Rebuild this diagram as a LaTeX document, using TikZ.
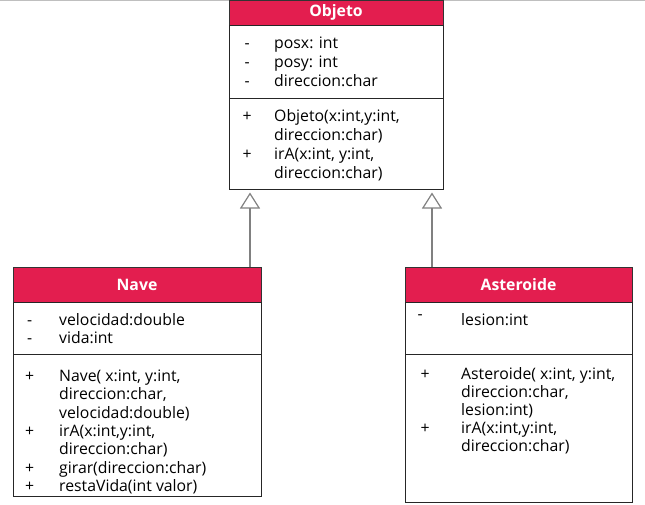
\documentclass[tikz,border=0pt]{standalone}
\usepackage{fontspec}
\setmainfont{Open Sans}
\usetikzlibrary{positioning,arrows.meta}
\definecolor{umlred}{RGB}{227,30,79}
\newcommand{\sg}[1]{\makebox[0pt]{#1}}

\begin{document}
\begin{tikzpicture}[x=1pt,y=-1pt,
	hdr/.style={draw=black!80,fill=umlred,text=white,inner sep=0pt,outer sep=0pt,
		anchor=north west,line width=0.8pt,font=\fontsize{15.8}{18}\selectfont\bfseries},
	sect/.style={draw=black!85,fill=white,inner sep=0pt,outer sep=0pt,line width=0.9pt},
	members/.style={inner sep=0pt,anchor=base west,font=\fontsize{15.8}{#1}\selectfont},
	members/.default=18.4,
	inherit/.style={draw=black!50,line width=1.2pt,
		-{Triangle[open,length=16pt,width=20pt]},shorten >=3.5pt}
]
	\useasboundingbox (0,0) rectangle (645,504);
	\draw[black!25,line width=0.8pt] (0,0.5) -- (645,0.5);

	% Objeto
	\node[hdr,minimum width=214pt,minimum height=25pt] (objeto) at (229,0) {Objeto};
	\node[sect,minimum width=214pt,minimum height=73pt,below=0pt of objeto] (objeto-att) {};
	\node[sect,minimum width=214pt,minimum height=91pt,below=0pt of objeto-att] (objeto-met) {};
	\node[members=19] (objeto-att-txt) at (247,48) {\begin{tabular}[t]{@{}l@{\hspace{27pt}}l@{}}
		\sg{-} & posx: int\\
		\sg{-} & posy: int\\
		\sg{-} & direccion:char
	\end{tabular}};
	\node[members=19] (objeto-met-txt) at (247,121) {\begin{tabular}[t]{@{}l@{\hspace{27pt}}l@{}}
		\sg{+} & Objeto(x:int,y:int,\\
		       & direccion:char)\\
		\sg{+} & irA(x:int, y:int,\\
		       & direccion:char)
	\end{tabular}};

	% Nave
	\node[hdr,minimum width=248pt,minimum height=35pt] (nave) at (13,267) {Nave};
	\node[sect,minimum width=248pt,minimum height=52pt,below=0pt of nave] (nave-att) {};
	\node[sect,minimum width=248pt,minimum height=142pt,below=0pt of nave-att] (nave-met) {};
	\node[members] (nave-att-txt) at (29.5,325) {\begin{tabular}[t]{@{}l@{\hspace{29.5pt}}l@{}}
		\sg{-} & velocidad:double\\
		\sg{-} & vida:int
	\end{tabular}};
	\node[members=18.3] (nave-met-txt) at (29.5,381.5) {\begin{tabular}[t]{@{}l@{\hspace{29.5pt}}l@{}}
		\sg{+} & Nave( x:int, y:int,\\
		       & direccion:char,\\
		       & velocidad:double)\\
		\sg{+} & irA(x:int,y:int,\\
		       & direccion:char)\\
		\sg{+} & girar(direccion:char)\\
		\sg{+} & restaVida(int valor)
	\end{tabular}};

	% Asteroide
	\node[hdr,minimum width=227pt,minimum height=35pt] (asteroide) at (405,267) {Asteroide};
	\node[sect,minimum width=227pt,minimum height=52pt,below=0pt of asteroide] (asteroide-att) {};
	\node[sect,minimum width=227pt,minimum height=148pt,below=0pt of asteroide-att] (asteroide-met) {};
	\node[members] (asteroide-att-txt) at (420,325) {\begin{tabular}[t]{@{}l@{\hspace{41pt}}l@{}}
		\sg{\raisebox{6pt}{-}} & lesion:int
	\end{tabular}};
	\node[members=18.1] (asteroide-met-txt) at (425,379) {\begin{tabular}[t]{@{}l@{\hspace{36pt}}l@{}}
		\sg{+} & Asteroide( x:int, y:int,\\
		       & direccion:char,\\
		       & lesion:int)\\
		\sg{+} & irA(x:int,y:int,\\
		       & direccion:char)
	\end{tabular}};

	% Herencia
	\coordinate (nave-up) at (250,0);
	\coordinate (asteroide-up) at (432,0);
	\draw[inherit] (nave.north -| nave-up) -- (objeto-met.south -| nave-up);
	\draw[inherit] (asteroide.north -| asteroide-up) -- (objeto-met.south -| asteroide-up);

\end{tikzpicture}
\end{document}
